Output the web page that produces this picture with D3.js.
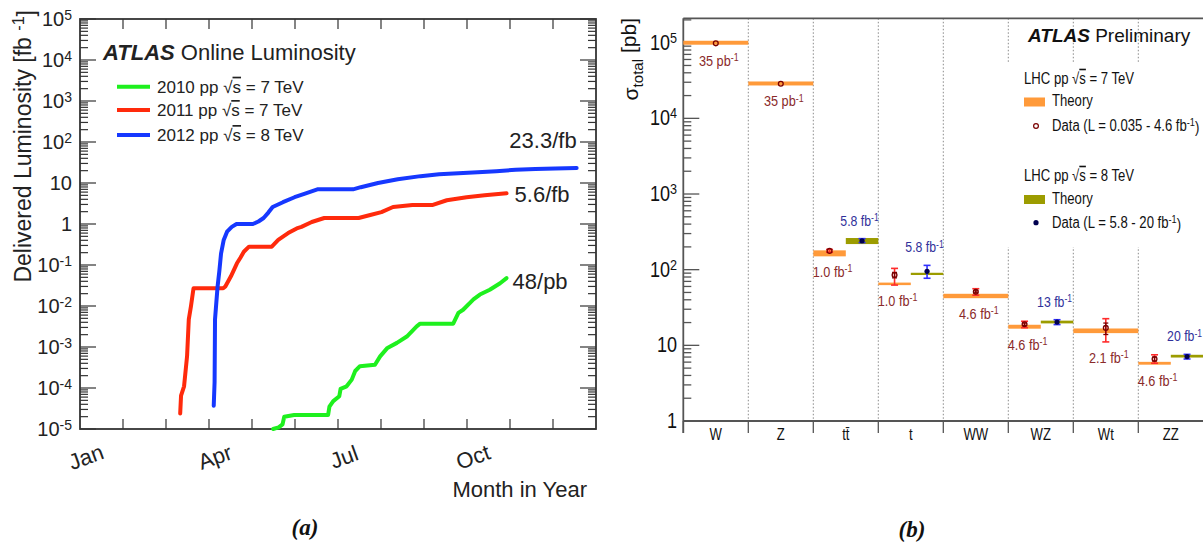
<!DOCTYPE html>
<html>
<head>
<meta charset="utf-8">
<script src="https://cdn.jsdelivr.net/npm/d3@7"></script>
<style>
  html, body { margin: 0; padding: 0; background: #fff; }
  svg { display: block; }
</style>
</head>
<body>
<svg id="fig" width="1203" height="546"></svg>
<script>
// ===================== Panel (a): ATLAS delivered luminosity =====================
const monthNames = ["Jan", "Apr", "Jul", "Oct"];
const monthNameAt = [0, 3, 6, 9];           // month index (0 = 1 January)
const lumiYears = ["2010", "2011", "2012"];
const lumiEnergies = ["7", "7", "8"];
const lumiTotals = ["48/pb", "5.6/fb", "23.3/fb"];

// [month of year, integrated luminosity in fb^-1]
const lumi2010 = [
  [4.49, 1.0e-5], [4.62, 1.1e-5], [4.71, 1.3e-5], [4.75, 2.0e-5], [4.98, 2.2e-5],
  [5.77, 2.2e-5], [5.80, 3.5e-5], [5.89, 4.8e-5], [6.03, 6.3e-5], [6.06, 9.5e-5],
  [6.20, 1.1e-4], [6.32, 1.6e-4], [6.40, 2.6e-4], [6.51, 3.4e-4], [6.86, 3.7e-4],
  [6.98, 5.9e-4], [7.15, 9.5e-4], [7.37, 1.26e-3], [7.60, 1.8e-3], [7.83, 3.2e-3],
  [7.91, 3.7e-3], [8.68, 3.7e-3], [8.80, 6.8e-3], [8.91, 8.1e-3], [9.15, 0.0145],
  [9.30, 0.019], [9.53, 0.025], [9.77, 0.036], [9.92, 0.048]
];
const lumi2011 = [
  [2.33, 2.4e-5], [2.35, 6.5e-5], [2.42, 1.1e-4], [2.49, 6.0e-4], [2.53, 4.7e-3],
  [2.58, 9.8e-3], [2.64, 0.027], [3.33, 0.027], [3.38, 0.030], [3.51, 0.053],
  [3.65, 0.11], [3.73, 0.15], [3.81, 0.21], [3.93, 0.28], [4.46, 0.28],
  [4.61, 0.41], [4.84, 0.60], [5.04, 0.78], [5.15, 0.85], [5.39, 1.12],
  [5.68, 1.4], [6.48, 1.4], [6.75, 1.66], [7.01, 1.95], [7.28, 2.6],
  [7.73, 2.9], [8.19, 2.9], [8.53, 3.8], [8.99, 4.5], [9.41, 5.0], [9.92, 5.6]
];
const lumi2012 = [
  [3.11, 3.7e-5], [3.13, 1.4e-4], [3.14, 4.7e-3], [3.17, 0.012], [3.20, 0.030],
  [3.24, 0.07], [3.28, 0.19], [3.34, 0.40], [3.42, 0.65], [3.53, 0.85],
  [3.64, 1.0], [4.02, 1.0], [4.15, 1.15], [4.27, 1.4], [4.38, 1.9],
  [4.48, 2.6], [4.72, 3.4], [4.99, 4.5], [5.25, 5.6], [5.52, 7.0],
  [6.35, 7.0], [6.53, 7.9], [6.93, 10], [7.39, 12.4], [7.92, 14.7],
  [8.35, 16.3], [8.80, 17.3], [9.25, 18.3], [9.68, 19.4], [10.13, 21.0],
  [10.59, 22.0], [11.05, 22.7], [11.55, 23.3]
];

// ===================== Panel (b): total production cross sections =====================
const processes = ["W", "Z", "tt\u0304", "t", "WW", "WZ", "Wt", "ZZ"];
// theory bands [low, high] in pb
const theory7 = [[9.4e4, 1.06e5], [2.72e4, 3.07e4], [150, 180], [62.5, 67.5],
                 [42, 48], [16.6, 18.7], [14.5, 16.7], [5.55, 6.05]];
const theory8 = [null, null, [218, 262], [85, 91], null, [19.5, 21.2], null, [6.9, 7.5]];
// measurements in pb
const data7 = [9.8e4, 2.87e4, 177, 85, 51, 19, 17, 6.6];
const data7Err = [null, null, [170, 185], [62.6, 104], [46, 56], [17.1, 20.8], [11.1, 22.5], [5.8, 7.5]];
const data7Stat = [null, null, null, [78, 92], [49.5, 52.5], [18.3, 19.7], [13.9, 19.7], [6.2, 7.0]];
const data8 = [null, null, 241, 95, null, 20.3, null, 7.1];
const data8Err = [null, null, [228, 257], [77, 114], null, [18.8, 21.8], null, [6.6, 7.6]];
// integrated luminosity of each measurement (unit^-1)
const lumiLabel7 = ["35 pb", "35 pb", "1.0 fb", "1.0 fb", "4.6 fb", "4.6 fb", "2.1 fb", "4.6 fb"];
const lumiLabel8 = [null, null, "5.8 fb", "5.8 fb", null, "13 fb", null, "20 fb"];

// ------------------------------------------------------------------
const svg = d3.select("#fig");
const FA = "'Liberation Sans', Arial, Helvetica, sans-serif";
const FS = "'Liberation Serif', 'Times New Roman', serif";
const NARROW = 0.82;   // horizontal squeeze giving a condensed Helvetica look

function sup(textSel, base, exp, opts) {
  opts = opts || {};
  textSel.append("tspan").text(base);
  textSel.append("tspan").attr("dy", "-0.45em").attr("font-size", "70%").text(exp);
  if (opts.after) textSel.append("tspan").attr("dy", "0.45em").text(opts.after);
  return textSel;
}
function sqrtS(textSel, pre, post) {
  textSel.append("tspan").text(pre + "\u221A");
  textSel.append("tspan").style("text-decoration", "overline").text("s");
  textSel.append("tspan").text(post);
}
// condensed text placed at (x, y)
function ntext(parent, x, y, size, anchor) {
  return parent.append("text")
    .attr("transform", `translate(${x},${y}) scale(${NARROW},1)`)
    .attr("font-family", FA).attr("font-size", size)
    .attr("text-anchor", anchor || "start");
}

// ===================== draw panel (a) =====================
(function panelA() {
  const g = svg.append("g");
  const x = d3.scaleLinear().domain([0, 12]).range([80, 596]);
  const y = d3.scaleLog().domain([1e-5, 1e5]).range([429, 19]);
  const [x0, x1] = x.range();
  const [yb, yt] = y.range();
  const ink = "#333";

  // ticks on all four sides
  const tk = g.append("g").attr("stroke", ink).attr("stroke-width", 1.2);
  for (let e = -5; e <= 5; e++) {
    const v = Math.pow(10, e);
    tk.append("line").attr("x1", x0).attr("x2", x0 + 16).attr("y1", y(v)).attr("y2", y(v));
    tk.append("line").attr("x1", x1).attr("x2", x1 - 16).attr("y1", y(v)).attr("y2", y(v));
    if (e < 5) {
      for (let k = 2; k <= 9; k++) {
        const yy = y(k * v);
        tk.append("line").attr("x1", x0).attr("x2", x0 + 8).attr("y1", yy).attr("y2", yy);
        tk.append("line").attr("x1", x1).attr("x2", x1 - 8).attr("y1", yy).attr("y2", yy);
      }
    }
  }
  for (let m = 1; m < 12; m++) {
    tk.append("line").attr("x1", x(m)).attr("x2", x(m)).attr("y1", yb).attr("y2", yb - 10);
    tk.append("line").attr("x1", x(m)).attr("x2", x(m)).attr("y1", yt).attr("y2", yt + 10);
  }
  g.append("rect").attr("x", x0).attr("y", yt).attr("width", x1 - x0).attr("height", yb - yt)
    .attr("fill", "none").attr("stroke", ink).attr("stroke-width", 1.8);

  // y tick labels
  const lab = g.append("g").attr("font-family", FA).attr("font-size", 20).attr("fill", "#222")
    .attr("text-anchor", "end");
  for (let e = -5; e <= 5; e++) {
    const t = lab.append("text").attr("x", 72).attr("y", y(Math.pow(10, e)) + 7);
    if (e === 0) t.text("1");
    else if (e === 1) t.text("10");
    else sup(t, "10", String(e));
  }

  // month labels
  monthNames.forEach((name, i) => {
    g.append("text")
      .attr("transform", `translate(${x(monthNameAt[i]) + 6},${457}) rotate(-20)`)
      .attr("text-anchor", "middle").attr("dy", "0.35em")
      .attr("font-family", FA).attr("font-size", 22).attr("fill", "#222").text(name);
  });
  g.append("text").attr("x", 587).attr("y", 497).attr("text-anchor", "end")
    .attr("font-family", FA).attr("font-size", 22).attr("fill", "#222").text("Month in Year");

  // y axis title
  const yt_ = g.append("text").attr("transform", "translate(31,10) rotate(-90)")
    .attr("text-anchor", "end").attr("font-family", FA).attr("font-size", 23).attr("fill", "#222");
  sup(yt_, "Delivered Luminosity [fb ", "-1", { after: "]" });

  // curves
  const line = d3.line().x(d => x(d[0])).y(d => y(d[1]));
  const series = [lumi2010, lumi2011, lumi2012];
  const colors = ["#1ef01e", "#ff2a0c", "#1638ff"];
  series.forEach((s, i) => {
    g.append("path").datum(s).attr("d", line).attr("fill", "none")
      .attr("stroke", colors[i]).attr("stroke-width", 4)
      .attr("stroke-linejoin", "round").attr("stroke-linecap", "round");
  });

  // totals
  const tot = g.append("g").attr("font-family", FA).attr("font-size", 22).attr("fill", "#222");
  const end2010 = lumi2010[lumi2010.length - 1];
  const end2011 = lumi2011[lumi2011.length - 1];
  const end2012 = lumi2012[lumi2012.length - 1];
  tot.append("text").attr("x", x(end2010[0]) + 6).attr("y", y(end2010[1]) + 11).text(lumiTotals[0]);
  tot.append("text").attr("x", x(end2011[0]) + 8).attr("y", y(end2011[1]) + 9).text(lumiTotals[1]);
  tot.append("text").attr("x", x(end2012[0])).attr("y", y(end2012[1]) - 20)
    .attr("text-anchor", "end").text(lumiTotals[2]);

  // title
  const ttl = g.append("text").attr("x", 103).attr("y", 60).attr("font-family", FA)
    .attr("font-size", 22).attr("fill", "#222");
  ttl.append("tspan").attr("font-weight", "bold").attr("font-style", "italic").text("ATLAS");
  ttl.append("tspan").text(" Online Luminosity");

  // legend
  const legY = [86.7, 110, 135];
  lumiYears.forEach((yr, i) => {
    g.append("line").attr("x1", 117).attr("x2", 150).attr("y1", legY[i]).attr("y2", legY[i])
      .attr("stroke", colors[i]).attr("stroke-width", 4);
    const t = g.append("text").attr("x", 157).attr("y", legY[i] + 6)
      .attr("font-family", FA).attr("font-size", 17).attr("fill", "#222");
    sqrtS(t, yr + " pp ", " = " + lumiEnergies[i] + " TeV");
  });

  g.append("text").attr("x", 305).attr("y", 535).attr("text-anchor", "middle")
    .attr("font-family", FS).attr("font-size", 23).attr("font-style", "italic")
    .attr("font-weight", "bold").attr("fill", "#111").text("(a)");
})();

// ===================== draw panel (b) =====================
(function panelB() {
  const g = svg.append("g");
  const x = d3.scaleBand().domain(processes).range([683.3, 1203.3]);
  const y = d3.scaleLog().domain([1, 2.1e5]).range([421, 18.3]);
  const bw = x.bandwidth();
  const [x0] = x.range();
  const [yb, yt] = y.range();
  const ink = "#555";
  const c7 = "#ff9a3a", c8 = "#9c9c00";

  // category separators (dotted) and bottom ticks
  processes.forEach((p, i) => {
    if (i > 0) {
      g.append("line").attr("x1", x(p)).attr("x2", x(p)).attr("y1", yt).attr("y2", yb)
        .attr("stroke", "#8a8a8a").attr("stroke-width", 1).attr("stroke-dasharray", "1.5,2");
    }
    g.append("line").attr("x1", x(p)).attr("x2", x(p)).attr("y1", yb).attr("y2", yb + 12)
      .attr("stroke", ink).attr("stroke-width", 1.3);
  });

  // legend backdrop hides the separators behind it
  g.append("rect").attr("x", 1005).attr("y", 63).attr("width", 200).attr("height", 184).attr("fill", "#fff");

  // axes frame (left, top, bottom)
  g.append("line").attr("x1", x0).attr("x2", x0).attr("y1", yt).attr("y2", yb + 12)
    .attr("stroke", ink).attr("stroke-width", 1.8);
  g.append("line").attr("x1", x0).attr("x2", 1203).attr("y1", yt).attr("y2", yt)
    .attr("stroke", ink).attr("stroke-width", 1.8);
  g.append("line").attr("x1", x0).attr("x2", 1203).attr("y1", yb).attr("y2", yb)
    .attr("stroke", ink).attr("stroke-width", 1.8);

  // y ticks
  const tk = g.append("g").attr("stroke", ink).attr("stroke-width", 1.3);
  const lab = g.append("g").attr("fill", "#111");
  for (let e = 0; e <= 5; e++) {
    const v = Math.pow(10, e);
    tk.append("line").attr("x1", x0).attr("x2", x0 + 16).attr("y1", y(v)).attr("y2", y(v));
    for (let k = 2; k <= 9; k++) {
      if (k * v > y.domain()[1]) break;
      tk.append("line").attr("x1", x0).attr("x2", x0 + 8).attr("y1", y(k * v)).attr("y2", y(k * v));
    }
    const t = ntext(lab, 677, y(v) + 7, 22, "end");
    if (e === 0) t.text("1");
    else if (e === 1) t.text("10");
    else sup(t, "10", String(e));
  }

  // category labels
  processes.forEach(p => {
    ntext(g, x(p) + bw / 2, 440, 16, "middle").attr("fill", "#111").text(p);
  });

  // y title
  const yl = g.append("text").attr("transform", "translate(638,18) rotate(-90)")
    .attr("text-anchor", "end").attr("font-family", FA).attr("font-size", 21).attr("fill", "#111");
  yl.append("tspan").text("\u03C3");
  yl.append("tspan").attr("dy", "0.3em").attr("font-size", "72%").text("total");
  yl.append("tspan").attr("dy", "-0.3em").text(" [pb]");

  // theory bands
  processes.forEach((p, i) => {
    const split = theory8[i] !== null;
    const t7 = theory7[i];
    g.append("rect").attr("x", x(p)).attr("width", split ? bw / 2 : bw)
      .attr("y", y(t7[1])).attr("height", Math.max(2, y(t7[0]) - y(t7[1]))).attr("fill", c7);
    if (split) {
      const t8 = theory8[i];
      g.append("rect").attr("x", x(p) + bw / 2).attr("width", bw / 2)
        .attr("y", y(t8[1])).attr("height", Math.max(2, y(t8[0]) - y(t8[1]))).attr("fill", c8);
    }
  });

  function errBar(cx, lo, hi, color, cap, sw) {
    g.append("line").attr("x1", cx).attr("x2", cx).attr("y1", y(lo)).attr("y2", y(hi))
      .attr("stroke", color).attr("stroke-width", sw);
    [lo, hi].forEach(v => g.append("line").attr("x1", cx - cap).attr("x2", cx + cap)
      .attr("y1", y(v)).attr("y2", y(v)).attr("stroke", color).attr("stroke-width", sw));
  }

  // measurements and luminosity labels
  processes.forEach((p, i) => {
    const split = theory8[i] !== null;
    const cx7 = x(p) + (split ? bw / 4 : bw / 2);
    if (data7Err[i]) errBar(cx7, data7Err[i][0], data7Err[i][1], "#ff2b2b", 3.5, 1.6);
    if (data7Stat[i]) errBar(cx7, data7Stat[i][0], data7Stat[i][1], "#7a0000", 2.5, 1.3);
    g.append("circle").attr("cx", cx7).attr("cy", y(data7[i])).attr("r", 2.4)
      .attr("fill", "none").attr("stroke", "#7a0000").attr("stroke-width", 1.3);
    const lo7 = Math.min(theory7[i][0], data7Err[i] ? data7Err[i][0] : Infinity);
    const l7 = ntext(g, cx7 + 3, y(lo7) + 21, 15.5, "middle").attr("fill", "#8a2a2a");
    sup(l7, lumiLabel7[i], "-1");

    if (data8[i] !== null) {
      const cx8 = x(p) + 3 * bw / 4;
      errBar(cx8, data8Err[i][0], data8Err[i][1], "#3030ff", 3.5, 1.6);
      g.append("circle").attr("cx", cx8).attr("cy", y(data8[i])).attr("r", 2.6).attr("fill", "#000050");
      const l8 = ntext(g, cx8 - 2.5, y(data8Err[i][1]) - 13, 15, "middle").attr("fill", "#30309a");
      sup(l8, lumiLabel8[i], "-1");
    }
  });

  // title and legend
  const ttl = g.append("text").attr("x", 1028).attr("y", 42).attr("font-family", FA)
    .attr("font-size", 19).attr("fill", "#111");
  ttl.append("tspan").attr("font-weight", "bold").attr("font-style", "italic").text("ATLAS");
  ttl.append("tspan").text(" Preliminary");

  const lg = g.append("g").attr("fill", "#111");
  sqrtS(ntext(lg, 1024, 84, 16), "LHC pp ", " = 7 TeV");
  lg.append("rect").attr("x", 1024).attr("y", 97.5).attr("width", 21).attr("height", 9).attr("fill", c7);
  ntext(lg, 1052, 106, 16).text("Theory");
  lg.append("circle").attr("cx", 1036).attr("cy", 126).attr("r", 2.4).attr("fill", "none")
    .attr("stroke", "#7a0000").attr("stroke-width", 1.2);
  sup(ntext(lg, 1052, 131, 16), "Data (L = 0.035 - 4.6 fb", "-1", { after: ")" });

  sqrtS(ntext(lg, 1024, 181, 16), "LHC pp ", " = 8 TeV");
  lg.append("rect").attr("x", 1024).attr("y", 195).attr("width", 21).attr("height", 9).attr("fill", c8);
  ntext(lg, 1052, 204, 16).text("Theory");
  lg.append("circle").attr("cx", 1036).attr("cy", 222.7).attr("r", 2.6).attr("fill", "#000050");
  sup(ntext(lg, 1052, 228, 16), "Data (L = 5.8 - 20 fb", "-1", { after: ")" });

  g.append("text").attr("x", 912).attr("y", 537).attr("text-anchor", "middle")
    .attr("font-family", FS).attr("font-size", 23).attr("font-style", "italic")
    .attr("font-weight", "bold").attr("fill", "#111").text("(b)");
})();
</script>
</body>
</html>
